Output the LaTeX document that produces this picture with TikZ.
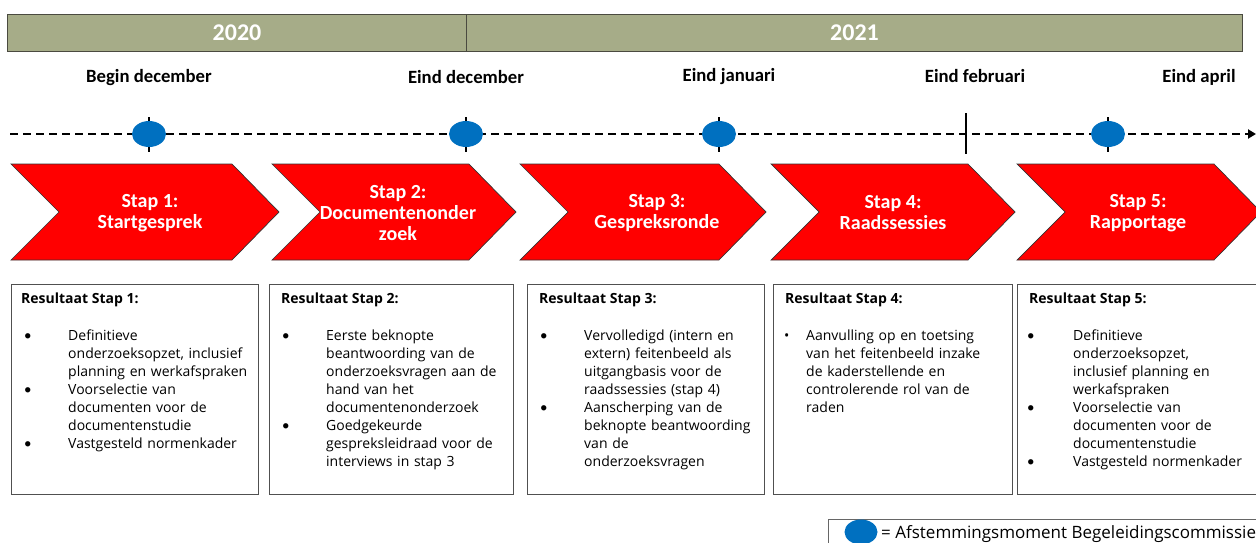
\documentclass[tikz,border=0pt]{standalone}
\usepackage{fontspec}
\setmainfont{Carlito}
\newfontfamily\bodyfont{Open Sans}
\usetikzlibrary{arrows.meta,shapes.geometric}
\definecolor{yearfill}{HTML}{A6AC88}
\definecolor{yearline}{HTML}{4A4A40}
\definecolor{msblue}{HTML}{0070C0}
\definecolor{chevred}{HTML}{FF0000}
\definecolor{boxline}{HTML}{505050}
\tikzset{
  yearbox/.style={draw=yearline, line width=1pt, fill=yearfill, inner sep=0pt, minimum height=37pt, anchor=north west, text=white, font=\fontsize{24}{26}\selectfont\bfseries},
  datelbl/.style={font=\fontsize{18.7}{21}\selectfont\bfseries, inner sep=0pt},
  timeline/.style={line width=2.2pt, dash pattern=on 8pt off 5pt, -{Triangle[length=8pt,width=9pt]}},
  tickmark/.style={line width=2pt},
  milestone/.style={ellipse, fill=msblue, minimum width=34pt, minimum height=26pt, inner sep=0pt},
  chevron/.style={draw=black!80, line width=0.7pt, fill=chevred},
  chevtext/.style={text=white, align=center, inner sep=0pt, font=\fontsize{20}{21}\selectfont\bfseries},
  resbox/.style={draw=boxline, line width=1pt, anchor=north west, inner sep=0pt},
  restitle/.style={anchor=base west, inner sep=0pt, font=\bodyfont\fontsize{14}{18}\selectfont\bfseries},
  bul/.style={anchor=base west, inner sep=0pt, font=\fontsize{15}{18}\selectfont},
  bultext/.style={anchor=base west, inner sep=0pt, align=left, text width=200pt, font=\bodyfont\fontsize{14}{18}\selectfont},
}
\begin{document}
\begin{tikzpicture}[x=1pt,y=-1pt]
\useasboundingbox (0,0) rectangle (1256,543);
% year bar
\node[yearbox, minimum width=459pt] (y2020) at (7,14) {2020};
\node[yearbox, minimum width=776pt] (y2021) at (466,14) {2021};
% date labels
\node[datelbl] (d1) at (149,78) {Begin december};
\node[datelbl] (d2) at (466,77) {Eind december};
\node[datelbl] (d3) at (729,77) {Eind januari};
\node[datelbl] (d4) at (975,76) {Eind februari};
\node[datelbl] (d5) at (1199,77) {Eind april};
% timeline
\coordinate (tl0) at (10,134);
\coordinate (tl1) at (1256,134);
\draw[timeline] (tl0) -- (tl1);
\draw[tickmark] (966,113) -- (966,154);
\foreach \x/\n in {149/m1,466/m2,719/m3,1108/m5}{
  \draw[tickmark] (\x,117) -- (\x,152);
  \node[milestone] (\n) at (\x,134) {};
}
% chevrons
\foreach \l/\r in {11/232,272/469,520/719,771/968,1017/1214}{
  \draw[chevron] (\l,164) -- (\r,164) -- (\r+47,212) -- (\r,260) -- (\l,260) -- (\l+48,212) -- cycle;
}
\node[chevtext] (c1) at (150,213) {Stap 1:\\Startgesprek};
\node[chevtext] (c2) at (398,213) {Stap 2:\\Documentenonder\\zoek};
\node[chevtext] (c3) at (657,213) {Stap 3:\\Gespreksronde};
\node[chevtext] (c4) at (893,213) {Stap 4:\\Raadssessies};
\node[chevtext] (c5) at (1138,213) {Stap 5:\\Rapportage};
% result boxes
\node[resbox, minimum width=247pt, minimum height=210pt] (r1) at (11,284) {};
\node[resbox, minimum width=244pt, minimum height=210pt] (r2) at (269,284) {};
\node[resbox, minimum width=237pt, minimum height=210pt] (r3) at (527,284) {};
\node[resbox, minimum width=239pt, minimum height=210pt] (r4) at (773,284) {};
\node[resbox, minimum width=250pt, minimum height=210pt] (r5) at (1017,284) {};
% box 1
\node[restitle] (t1) at (21,303) {Resultaat Stap 1:};
\node[bul] (b11) at (24,340) {•};
\node[bultext] (x11) at (68,340) {Definitieve\\onderzoeksopzet, inclusief\\planning en werkafspraken};
\node[bul] (b12) at (24,394) {•};
\node[bultext] (x12) at (68,394) {Voorselectie van\\documenten voor de\\documentenstudie};
\node[bul] (b13) at (24,448) {•};
\node[bultext] (x13) at (68,448) {Vastgesteld normenkader};
% box 2
\node[restitle] (t2) at (281,303) {Resultaat Stap 2:};
\node[bul] (b21) at (282,340) {•};
\node[bultext] (x21) at (326,340) {Eerste beknopte\\beantwoording van de\\onderzoeksvragen aan de\\hand van het\\documentenonderzoek};
\node[bul] (b22) at (282,430) {•};
\node[bultext] (x22) at (326,430) {Goedgekeurde\\gespreksleidraad voor de\\interviews in stap 3};
% box 3
\node[restitle] (t3) at (539,303) {Resultaat Stap 3:};
\node[bul] (b31) at (540,340) {•};
\node[bultext] (x31) at (584,340) {Vervolledigd (intern en\\extern) feitenbeeld als\\uitgangbasis voor de\\raadssessies (stap 4)};
\node[bul] (b32) at (540,412) {•};
\node[bultext] (x32) at (584,412) {Aanscherping van de\\beknopte beantwoording\\van de\\onderzoeksvragen};
% box 4
\node[restitle] (t4) at (785,303) {Resultaat Stap 4:};
\node[bul, font=\bodyfont\fontsize{14}{18}\selectfont] (b41) at (784,340) {•};
\node[bultext] (x41) at (806,340) {Aanvulling op en toetsing\\van het feitenbeeld inzake\\de kaderstellende en\\controlerende rol van de\\raden};
% box 5
\node[restitle] (t5) at (1029,303) {Resultaat Stap 5:};
\node[bul] (b51) at (1027,340) {•};
\node[bultext] (x51) at (1073,340) {Definitieve\\onderzoeksopzet,\\inclusief planning en\\werkafspraken};
\node[bul] (b52) at (1027,412) {•};
\node[bultext] (x52) at (1073,412) {Voorselectie van\\documenten voor de\\documentenstudie};
\node[bul] (b53) at (1027,466) {•};
\node[bultext] (x53) at (1073,466) {Vastgesteld normenkader};
% legend
\node[draw=black!60, line width=1pt, anchor=north west, minimum width=450pt, minimum height=30pt, inner sep=0pt] (leg) at (828,519) {};
\node[milestone, minimum width=33pt, minimum height=25pt] (legm) at (861,532) {};
\node[anchor=west, inner sep=0pt, font=\bodyfont\fontsize{17}{19}\selectfont] (legt) at (881,534) {= Afstemmingsmoment Begeleidingscommissie};
\end{tikzpicture}
\end{document}
